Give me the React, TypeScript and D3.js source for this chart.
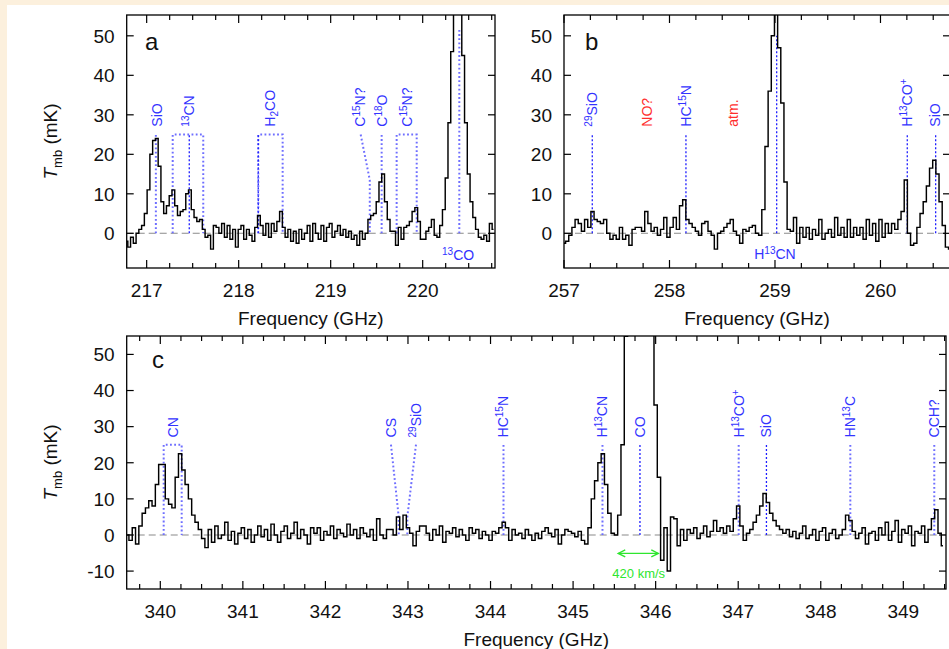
import React from 'react';
import * as d3 from 'd3';

// ---------- DATA ----------
// Panel a: channels start at 216.78 GHz, 0.03 GHz wide
const aStart = 216.78;
const aStep = 0.03;
const aTmb = [
  -2, -3.5, -1, -2.5, 0, 1, 2, 5, 11, 20,
  23.5, 24, 17, 8, 5, 7, 9.5, 11, 7, 4.5,
  5.5, 6, 10, 11, 6, 4, 3, 3.5, 1, -1,
  -0.5, -4, 2, 1.5, 0, 2.5, -1, 2, -1.5, 1,
  -3.5, 1, 2, -1.5, 1, -0.5, -2, 1.5, 4.5, 2,
  -0.5, 2.5, -1, 2.5, 0.5, 3, 5.5, 1.5, -1, 1,
  -2, 0.5, -2.5, 1, -1.5, 0, 2, -2, 2.5, 0,
  -1.5, 2, -2, 1.5, 2.5, -1, 0.5, 2, -0.5, 1,
  -1, 0.5, -1.5, -0.5, -3, 0.5, -1.5, 0, 3.5, 4.5,
  5, 8, 13, 15, 8, 3.5, 0.5, 0.5, -3, 1.5,
  -1.5, 1.5, 2, 3, 5.5, 6.5, 3, -1.5, -1.5, 0.5,
  1.5, 3.5, -0.5, -1, 2, 6, 14, 28, 46, 75,
  100, 85, 45, 28, 15, 8, 4, 1, -1, -1.5,
  -0.5, -2, 2.5, 1,
];

// Panel b: channels start at 257.00 GHz, 0.03 GHz wide
const bStart = 257.0;
const bStep = 0.03;
const bTmb = [
  -2.5, -2, -0.5, 1.5, 3.5, 2.5, 0.5, 3.5, 1.5, 5.5,
  3.5, 3, 2.5, 3.5, 0, -1.5, -0.5, -1.5, 1.5, -1.5,
  -0.5, -3, 1, 1.5, 1.5, 0.5, 5.5, 2.5, 0.5, 1.5,
  -0.5, 1, 4, -1, 1.5, 4, 1, 7, 8.5, 3.5,
  2.5, 1.5, 0.5, -0.5, 2.5, 3, 0.5, -0.5, -4, 0,
  0.5, 1.5, 2.5, 3.5, 0.5, -0.5, -2.5, 1, 0.5, 1.5,
  2, 0, -0.5, 6, 22, 36, 50, 57, 47, 33,
  13, 1, 0.5, 4, -2.5, 1.5, -1, 1.5, -1.5, 1,
  -0.5, 3.5, -1.5, 0, 1, -1, 4, -0.5, 1.5, -1,
  3.5, -1, 1.5, -0.5, 1.5, -1.5, 3.5, -0.5, 2.5, -2,
  3.5, -1, 2.5, 0, 2.5, 1, 3.5, 5.5, 13.5, 0,
  -3, -2.5, 1.5, 5, 8, 12, 16.5, 18.5, 15, 8,
  2, -3.5, -4,
];

// Panel c: channels start at 339.60 GHz, 0.04 GHz wide
const cStart = 339.6;
const cStep = 0.04;
const cTmb = [
  0, -1.5, 2, -2.5, 2.5, 6, 7.5, 9.5, 8, 14,
  19.5, 19.5, 10, 8.5, 7.5, 16, 22.5, 18, 14, 10,
  5.5, 3.5, 1.5, -1, -3.5, 1.5, -2, 2.5, -1, 0,
  3.5, -1.5, 1, -2.5, 0.5, 2, -1, 1.5, -2, 0,
  2.5, -0.5, 1.5, -1.5, 3, 0, -2, 1, 2.5, -1,
  0.5, 3.5, -1, 1.5, 0, -2.5, 2, 0.5, 2, -1.5,
  1, 0, 2.5, -1, 1.5, 0.5, -0.5, 3, 0, 1.5,
  -1, 2, 0.5, -0.5, 1.5, -1.5, 4.5, 0, -1, 1.5,
  1.5, 0, 5, 1.5, 5.5, 2, 0.5, -3, 1, 2.5,
  2.5, 0.5, -1.5, 1.5, 0, 2.5, -2, 1, 0.5, 2,
  -0.5, 1.5, 0, -1.5, 2, 0.5, 1.5, -1, 1, 0,
  -1.5, 1, 0.5, 2, 3.5, 2, -1.5, 1.5, 0, 0.5,
  -1, 1.5, 0, -1.5, 0.5, -1, 1, 2, 0.5, -0.5,
  1.5, -2.5, 0, 1.5, 1, 0.5, -0.5, 1, -1.5, -2.5,
  2, 10, 15, 20, 22.5, 14, 6, 0.5, 0, 5.5,
  25, 55, 110, 170, 210, 220, 200, 160, 100, 58,
  36, 16, -7, 2, -10, 5, 4.5, -3, 1.5, -1.5,
  1.5, 0.5, 2, -1, 0.5, 2.5, -0.5, 1, 4, 1,
  2, 0.5, 2.5, 1, 4.5, 8, 2.5, -1.5, 0.5, 1.5,
  3.5, 5.5, 8, 11.5, 9, 6, 4, 2.5, 1.5, 0.5,
  1.5, -0.5, 1, -1, 0.5, 2.5, -1, 0, 1.5, -1.5,
  1, 2, -1.5, 0.5, 1.5, -1, 0, 1.5, 5.5, 4,
  1, -1, 0.5, 2, -2.5, 0.5, 1, -1.5, 2, 0,
  3.5, -1.5, 1, 4, -2, 1.5, 0.5, 2.5, -3, 1,
  0.5, 2.5, -2, 1.5, 4.5, 7, 0.5, -3,
];

const abYTicks = [0, 10, 20, 30, 40, 50];
const cYTicks = [-10, 0, 10, 20, 30, 40, 50];
const aXLabels = [217, 218, 219, 220];
const bXLabels = [257, 258, 259, 260];
const cXLabels = [340, 341, 342, 343, 344, 345, 346, 347, 348, 349];

type Part = { t: string; s?: 'sup' | 'sub' };
type Label = { f: number; parts: Part[]; red?: boolean };
type Mark =
  | { kind: 'line'; f: number; dark?: boolean; top?: number }
  | { kind: 'bracket'; f1: number; f2: number; dark?: boolean }
  | { kind: 'slant'; fTop: number; fBot: number; vBreak: number; dark?: boolean };

const aLabels: Label[] = [
  { f: 217.11, parts: [{ t: 'SiO' }] },
  { f: 217.465, parts: [{ t: '13', s: 'sup' }, { t: 'CN' }] },
  { f: 218.34, parts: [{ t: 'H' }, { t: '2', s: 'sub' }, { t: 'CO' }] },
  { f: 219.32, parts: [{ t: 'C' }, { t: '15', s: 'sup' }, { t: 'N?' }] },
  { f: 219.555, parts: [{ t: 'C' }, { t: '18', s: 'sup' }, { t: 'O' }] },
  { f: 219.83, parts: [{ t: 'C' }, { t: '15', s: 'sup' }, { t: 'N?' }] },
];
const aMarks: Mark[] = [
  { kind: 'line', f: 217.1 },
  { kind: 'bracket', f1: 217.283, f2: 217.615 },
  { kind: 'line', f: 217.463, dark: true },
  { kind: 'bracket', f1: 218.213, f2: 218.478 },
  { kind: 'line', f: 218.213, dark: true },
  { kind: 'slant', fTop: 219.326, fBot: 219.425, vBreak: 13.5 },
  { kind: 'line', f: 219.554 },
  { kind: 'bracket', f1: 219.717, f2: 219.935 },
  { kind: 'line', f: 220.398, top: 52 },
];

const bLabels: Label[] = [
  { f: 257.268, parts: [{ t: '29', s: 'sup' }, { t: 'SiO' }] },
  { f: 257.79, parts: [{ t: 'NO?' }], red: true },
  { f: 258.156, parts: [{ t: 'HC' }, { t: '15', s: 'sup' }, { t: 'N' }] },
  { f: 258.6, parts: [{ t: 'atm.' }], red: true },
  { f: 260.254, parts: [{ t: 'H' }, { t: '13', s: 'sup' }, { t: 'CO' }, { t: '+', s: 'sup' }] },
  { f: 260.518, parts: [{ t: 'SiO' }] },
];
const bMarks: Mark[] = [
  { kind: 'line', f: 257.268, dark: true },
  { kind: 'line', f: 258.156, dark: true },
  { kind: 'line', f: 259.016, dark: true, top: 50 },
  { kind: 'line', f: 260.254, dark: true },
  { kind: 'line', f: 260.523, dark: true },
];

const cLabels: Label[] = [
  { f: 340.15, parts: [{ t: 'CN' }] },
  { f: 342.794, parts: [{ t: 'CS' }] },
  { f: 343.097, parts: [{ t: '29', s: 'sup' }, { t: 'SiO' }] },
  { f: 344.157, parts: [{ t: 'HC' }, { t: '15', s: 'sup' }, { t: 'N' }] },
  { f: 345.356, parts: [{ t: 'H' }, { t: '13', s: 'sup' }, { t: 'CN' }] },
  { f: 345.81, parts: [{ t: 'CO' }] },
  { f: 347.006, parts: [{ t: 'H' }, { t: '13', s: 'sup' }, { t: 'CO' }, { t: '+', s: 'sup' }] },
  { f: 347.342, parts: [{ t: 'SiO' }] },
  { f: 348.358, parts: [{ t: 'HN' }, { t: '13', s: 'sup' }, { t: 'C' }] },
  { f: 349.375, parts: [{ t: 'CCH?' }] },
];
const cMarks: Mark[] = [
  { kind: 'bracket', f1: 340.041, f2: 340.259 },
  { kind: 'slant', fTop: 342.794, fBot: 342.888, vBreak: 5 },
  { kind: 'slant', fTop: 343.097, fBot: 342.992, vBreak: 5 },
  { kind: 'line', f: 344.157 },
  { kind: 'line', f: 345.356 },
  { kind: 'line', f: 345.81, dark: true },
  { kind: 'line', f: 347.006 },
  { kind: 'line', f: 347.342, dark: true },
  { kind: 'line', f: 348.358 },
  { kind: 'line', f: 349.375 },
];

// ---------- STYLE ----------
const FONT = 'Liberation Sans, Arial, Helvetica, sans-serif';
const BLUE = '#3333ff';
const RED = '#ff2d2d';
const GREEN = '#2ee62e';
const MARK_TOP = 25;
const LABEL_BASE = 27;

function RotLabel({ x, y, parts, color }: { x: number; y: number; parts: Part[]; color: string }) {
  let cur = 0;
  const spans = parts.map((p, i) => {
    const target = p.s === 'sup' ? -5 : p.s === 'sub' ? 3.5 : 0;
    const dy = target - cur;
    cur = target;
    return (
      <tspan key={i} dy={dy} fontSize={p.s ? 10 : 14}>
        {p.t}
      </tspan>
    );
  });
  return (
    <text
      transform={`translate(${x + 5},${y}) rotate(-90)`}
      fill={color}
      fontFamily={FONT}
      textAnchor="start"
    >
      {spans}
    </text>
  );
}

type PanelProps = {
  id: string;
  left: number;
  top: number;
  right: number;
  bottom: number;
  xDomain: [number, number];
  yDomain: [number, number];
  start: number;
  step: number;
  values: number[];
  yTicks: number[];
  xLabels: number[];
  letter: string;
  letterX: number;
  letterY: number;
  marks: Mark[];
  labels: Label[];
};

function Panel(p: PanelProps) {
  const x = d3.scaleLinear().domain(p.xDomain).range([p.left, p.right]);
  const y = d3.scaleLinear().domain(p.yDomain).range([p.bottom, p.top]);
  const pts: [number, number][] = p.values.map((v, i) => [p.start + p.step * i, v]);
  const line = d3
    .line<[number, number]>()
    .x((d) => x(d[0]))
    .y((d) => y(d[1]))
    .curve(d3.curveStep);

  const k0 = Math.ceil(p.xDomain[0] * 4 - 1e-6);
  const k1 = Math.floor(p.xDomain[1] * 4 + 1e-6);
  const xt = d3.range(k0, k1 + 1).map((k) => ({ v: k / 4, major: k % 4 === 0 }));

  const markStyle = (dark?: boolean) =>
    dark
      ? { stroke: '#1e1eff', strokeWidth: 1.3, strokeDasharray: '2,2', fill: 'none' }
      : { stroke: '#6e6eff', strokeWidth: 2, strokeDasharray: '1.8,2.4', fill: 'none' };

  const markPath = (m: Mark) => {
    if (m.kind === 'line') {
      return `M${x(m.f)},${y(0)}L${x(m.f)},${y(m.top ?? MARK_TOP)}`;
    }
    if (m.kind === 'bracket') {
      return `M${x(m.f1)},${y(0)}L${x(m.f1)},${y(MARK_TOP)}L${x(m.f2)},${y(MARK_TOP)}L${x(m.f2)},${y(0)}`;
    }
    return `M${x(m.fTop)},${y(MARK_TOP)}L${x(m.fBot)},${y(m.vBreak)}L${x(m.fBot)},${y(0)}`;
  };

  return (
    <g>
      <defs>
        <clipPath id={p.id}>
          <rect x={p.left} y={p.top} width={p.right - p.left} height={p.bottom - p.top} />
        </clipPath>
      </defs>
      <g clipPath={`url(#${p.id})`}>
        <line
          x1={p.left}
          x2={p.right}
          y1={y(0)}
          y2={y(0)}
          stroke="#8a8a8a"
          strokeWidth={1.1}
          strokeDasharray="7,4"
        />
        {p.marks.map((m, i) => (
          <path key={i} d={markPath(m)} {...markStyle(m.dark)} />
        ))}
        <path d={line(pts) || ''} fill="none" stroke="#000" strokeWidth={1.45} strokeLinejoin="miter" />
      </g>
      {p.labels.map((l, i) => (
        <RotLabel key={i} x={x(l.f)} y={y(LABEL_BASE)} parts={l.parts} color={l.red ? RED : BLUE} />
      ))}
      <rect
        x={p.left}
        y={p.top}
        width={p.right - p.left}
        height={p.bottom - p.top}
        fill="none"
        stroke="#000"
        strokeWidth={1.3}
      />
      {xt.map((t, i) => {
        const len = t.major ? 8 : 5;
        const xx = x(t.v);
        return (
          <g key={i}>
            <line x1={xx} x2={xx} y1={p.bottom} y2={p.bottom - len} stroke="#000" strokeWidth={1.2} />
            <line x1={xx} x2={xx} y1={p.top} y2={p.top + len} stroke="#000" strokeWidth={1.2} />
          </g>
        );
      })}
      {p.xLabels.map((v) => (
        <text key={v} x={x(v)} y={p.bottom + 29} textAnchor="middle" fontSize={19} fontFamily={FONT} fill="#111">
          {v}
        </text>
      ))}
      {p.yTicks.map((v) => (
        <g key={v}>
          <line x1={p.left} x2={p.left + 7} y1={y(v)} y2={y(v)} stroke="#000" strokeWidth={1.2} />
          <line x1={p.right} x2={p.right - 7} y1={y(v)} y2={y(v)} stroke="#000" strokeWidth={1.2} />
          <text
            x={p.left - 12}
            y={y(v)}
            dy="0.36em"
            textAnchor="end"
            fontSize={19}
            fontFamily={FONT}
            fill="#111"
          >
            {v}
          </text>
        </g>
      ))}
      <text
        x={(p.left + p.right) / 2}
        y={p.bottom + 57}
        textAnchor="middle"
        fontSize={19}
        fontFamily={FONT}
        fill="#111"
      >
        Frequency (GHz)
      </text>
      <text x={p.letterX} y={p.letterY} fontSize={24} fontFamily={FONT} fill="#111">
        {p.letter}
      </text>
    </g>
  );
}

function YTitle({ cx, cy }: { cx: number; cy: number }) {
  return (
    <text transform={`translate(${cx},${cy}) rotate(-90)`} textAnchor="middle" fontSize={19} fontFamily={FONT} fill="#111">
      <tspan fontStyle="italic">T</tspan>
      <tspan fontSize={13} dy={5}>
        mb
      </tspan>
      <tspan dy={-5}> (mK)</tspan>
    </text>
  );
}

const aX: [number, number] = [216.783, 220.786];
const bX: [number, number] = [257.0, 260.659];
const cX: [number, number] = [339.593, 349.517];
const abY: [number, number] = [-8.78, 55.27];
const cY: [number, number] = [-14.96, 55.1];

export default function App() {
  const xa = d3.scaleLinear().domain(aX).range([126.7, 495]);
  const ya = d3.scaleLinear().domain(abY).range([268, 15]);
  const xb = d3.scaleLinear().domain(bX).range([564, 950]);
  const xc = d3.scaleLinear().domain(cX).range([126.7, 946]);
  const yc = d3.scaleLinear().domain(cY).range([589, 336]);
  const ax1 = xc(345.547);
  const ax2 = xc(346.032);
  const ayy = yc(-5.1);

  return (
    <svg
      width={949}
      height={649}
      style={{ position: 'absolute', left: 0, top: 0 }}
      xmlns="http://www.w3.org/2000/svg"
    >
      <rect x={0} y={0} width={949} height={649} fill="#fcf0dd" />
      <rect x={7} y={5} width={942} height={644} fill="#ffffff" />

      <Panel
        id="clipA"
        left={126.7}
        top={15}
        right={495}
        bottom={268}
        xDomain={aX}
        yDomain={abY}
        start={aStart}
        step={aStep}
        values={aTmb}
        yTicks={abYTicks}
        xLabels={aXLabels}
        letter="a"
        letterX={145}
        letterY={50}
        marks={aMarks}
        labels={aLabels}
      />
      <text x={xa(220.385)} y={ya(-6.8)} textAnchor="middle" fontFamily={FONT} fill={BLUE} fontSize={14}>
        <tspan fontSize={10} dy={-5}>13</tspan>
        <tspan dy={5}>CO</tspan>
      </text>

      <Panel
        id="clipB"
        left={564}
        top={15}
        right={950}
        bottom={268}
        xDomain={bX}
        yDomain={abY}
        start={bStart}
        step={bStep}
        values={bTmb}
        yTicks={abYTicks}
        xLabels={bXLabels}
        letter="b"
        letterX={585}
        letterY={50}
        marks={bMarks}
        labels={bLabels}
      />
      <text x={xb(259.0)} y={ya(-6.5)} textAnchor="middle" fontFamily={FONT} fill={BLUE} fontSize={14}>
        <tspan>H</tspan>
        <tspan fontSize={10} dy={-5}>13</tspan>
        <tspan dy={5}>CN</tspan>
      </text>

      <Panel
        id="clipC"
        left={126.7}
        top={336}
        right={946}
        bottom={589}
        xDomain={cX}
        yDomain={cY}
        start={cStart}
        step={cStep}
        values={cTmb}
        yTicks={cYTicks}
        xLabels={cXLabels}
        letter="c"
        letterX={152}
        letterY={368}
        marks={cMarks}
        labels={cLabels}
      />
      <g>
        <line x1={ax1} x2={ax2} y1={ayy} y2={ayy} stroke={GREEN} strokeWidth={1.4} />
        <path d={`M${ax1 + 7},${ayy - 3.5}L${ax1},${ayy}L${ax1 + 7},${ayy + 3.5}`} fill="none" stroke={GREEN} strokeWidth={1.4} />
        <path d={`M${ax2 - 7},${ayy - 3.5}L${ax2},${ayy}L${ax2 - 7},${ayy + 3.5}`} fill="none" stroke={GREEN} strokeWidth={1.4} />
        <text x={xc(345.795)} y={yc(-11.9)} textAnchor="middle" fontFamily={FONT} fontSize={13} fill={GREEN}>
          420 km/s
        </text>
      </g>

      <YTitle cx={57} cy={141.5} />
      <YTitle cx={57} cy={462.5} />
    </svg>
  );
}
